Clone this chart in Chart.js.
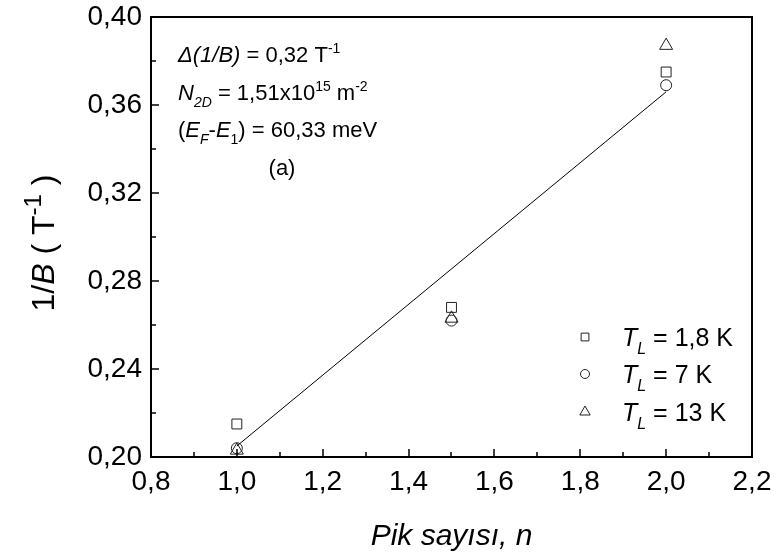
<!DOCTYPE html>
<html>
<head>
<meta charset="utf-8">
<script src="https://cdn.jsdelivr.net/npm/chart.js@4.4.0/dist/chart.umd.min.js"></script>
<style>
  html, body { margin: 0; padding: 0; background: #fff; }
</style>
</head>
<body>
<canvas id="chart" width="776" height="560"></canvas>
<script>
// data
const nValues = [1.0, 1.5, 2.0];
const t18K = [0.215, 0.268, 0.375];
const t7K = [0.204, 0.262, 0.369];
const t13K = [0.203, 0.263, 0.387];
const fitN = [1.0, 2.0];
const fitValues = [0.205, 0.366];
const xTickValues = [0.8, 1.0, 1.2, 1.4, 1.6, 1.8, 2.0, 2.2];
const yTickValues = [0.20, 0.24, 0.28, 0.32, 0.36, 0.40];

const FONT = '"Liberation Sans", Arial, sans-serif';
const INK = '#222';

function toPoints(xs, ys) {
  return xs.map((x, i) => ({ x: x, y: ys[i] }));
}
function comma(v, d) {
  return v.toFixed(d).replace('.', ',');
}

// draws a run of text pieces, some italic / sub / superscript
function richText(ctx, x, y, parts, size, align, small) {
  const k = small || 0.65;
  const fontFor = p => {
    const s = p.sub || p.sup ? Math.round(size * k) : size;
    return (p.it ? 'italic ' : '') + s + 'px ' + FONT;
  };
  let total = 0;
  parts.forEach(p => { ctx.font = fontFor(p); total += ctx.measureText(p.t).width; });
  let cx = align === 'center' ? x - total / 2 : x;
  ctx.textAlign = 'left';
  ctx.textBaseline = 'alphabetic';
  parts.forEach(p => {
    ctx.font = fontFor(p);
    let dy = 0;
    if (p.sub) dy = size * 0.3;
    if (p.sup) dy = -size * 0.42;
    ctx.fillText(p.t, cx, y + dy);
    cx += ctx.measureText(p.t).width;
  });
}

function marker(ctx, style, x, y, r) {
  ctx.beginPath();
  if (style === 'rect') {
    const s = r * Math.SQRT1_2;
    ctx.rect(x - s, y - s, 2 * s, 2 * s);
  } else if (style === 'circle') {
    ctx.arc(x, y, r, 0, Math.PI * 2);
  } else {
    ctx.moveTo(x, y - r);
    ctx.lineTo(x + r * Math.sin(Math.PI / 3), y + r / 2);
    ctx.lineTo(x - r * Math.sin(Math.PI / 3), y + r / 2);
    ctx.closePath();
  }
  ctx.stroke();
}

const decorations = {
  id: 'decorations',
  afterDraw(chart) {
    const ctx = chart.ctx;
    const a = chart.chartArea;
    const xs = chart.scales.x, ys = chart.scales.y;
    ctx.save();
    ctx.strokeStyle = '#000';
    ctx.fillStyle = '#000';

    // frame
    ctx.lineWidth = 2;
    ctx.strokeRect(a.left, a.top, a.right - a.left, a.bottom - a.top);

    // inward ticks, major + minor
    ctx.lineWidth = 1.5;
    ctx.beginPath();
    for (let i = 0; i < yTickValues.length; i++) {
      const y = Math.round(ys.getPixelForValue(yTickValues[i]));
      ctx.moveTo(a.left, y); ctx.lineTo(a.left + 8, y);
      if (i < yTickValues.length - 1) {
        const ym = Math.round(ys.getPixelForValue((yTickValues[i] + yTickValues[i + 1]) / 2));
        ctx.moveTo(a.left, ym); ctx.lineTo(a.left + 5, ym);
      }
    }
    for (let i = 0; i < xTickValues.length; i++) {
      const x = Math.round(xs.getPixelForValue(xTickValues[i]));
      ctx.moveTo(x, a.bottom); ctx.lineTo(x, a.bottom - 8);
      if (i < xTickValues.length - 1) {
        const xm = Math.round(xs.getPixelForValue((xTickValues[i] + xTickValues[i + 1]) / 2));
        ctx.moveTo(xm, a.bottom); ctx.lineTo(xm, a.bottom - 5);
      }
    }
    ctx.stroke();

    // annotation block
    ctx.fillStyle = '#000';
    richText(ctx, 178, 62, [
      { t: '\u0394(1/B)', it: true }, { t: ' = 0,32 T' }, { t: '-1', sup: true }
    ], 22);
    richText(ctx, 178, 100, [
      { t: 'N', it: true }, { t: '2D', it: true, sub: true }, { t: ' = 1,51x10' },
      { t: '15', sup: true }, { t: ' m' }, { t: '-2', sup: true }
    ], 22);
    richText(ctx, 178, 137, [
      { t: '(' }, { t: 'E', it: true }, { t: 'F', it: true, sub: true }, { t: '-' },
      { t: 'E', it: true }, { t: '1', sub: true }, { t: ') = 60,33 meV' }
    ], 22);
    richText(ctx, 282, 175, [{ t: '(a)' }], 22, 'center');

    // legend
    const legendRows = [
      { style: 'rect', r: 5.5, label: ' = 1,8 K', y: 337 },
      { style: 'circle', r: 4.5, label: ' = 7 K', y: 374 },
      { style: 'triangle', r: 6, label: ' = 13 K', y: 412 }
    ];
    ctx.strokeStyle = INK;
    ctx.lineWidth = 1;
    legendRows.forEach(row => {
      marker(ctx, row.style, 585, row.y, row.r);
      richText(ctx, 622, row.y + 9, [
        { t: 'T', it: true }, { t: 'L', it: true, sub: true }, { t: row.label }
      ], 25);
    });

    // axis titles
    richText(ctx, (a.left + a.right) / 2, 545, [{ t: 'Pik say\u0131s\u0131, n', it: true }], 30, 'center');
    ctx.save();
    ctx.translate(54, 243);
    ctx.rotate(-Math.PI / 2);
    richText(ctx, 0, 0, [
      { t: '1/' }, { t: 'B', it: true }, { t: ' ( T' }, { t: '-1', sup: true }, { t: ' )' }
    ], 32, 'center', 0.75);
    ctx.restore();

    ctx.restore();
  }
};

const seriesStyle = (label, data, style, r) => ({
  type: 'scatter',
  label: label,
  data: data,
  pointStyle: style,
  pointRadius: r,
  pointHoverRadius: r,
  pointBorderWidth: 1,
  pointBorderColor: INK,
  pointBackgroundColor: 'rgba(0,0,0,0)',
  showLine: false,
  clip: false
});

new Chart(document.getElementById('chart'), {
  type: 'scatter',
  data: {
    datasets: [
      {
        type: 'line',
        label: 'fit',
        data: toPoints(fitN, fitValues),
        borderColor: '#000',
        borderWidth: 1,
        pointRadius: 0,
        fill: false
      },
      seriesStyle('T_L = 1,8 K', toPoints(nValues, t18K), 'rect', 7),
      seriesStyle('T_L = 7 K', toPoints(nValues, t7K), 'circle', 5.5),
      seriesStyle('T_L = 13 K', toPoints(nValues, t13K), 'triangle', 7.5)
    ]
  },
  options: {
    responsive: false,
    animation: false,
    layout: { padding: { top: 17, right: 24, left: 0, bottom: 0 } },
    plugins: { legend: { display: false }, tooltip: { enabled: false } },
    scales: {
      x: {
        type: 'linear',
        min: 0.8, max: 2.2,
        afterBuildTicks: s => { s.ticks = xTickValues.map(v => ({ value: v })); },
        afterFit: s => { s.height = 103; s.paddingLeft = 0; s.paddingRight = 0; },
        grid: { display: true, drawOnChartArea: false, drawTicks: false },
        border: { display: false },
        ticks: {
          padding: 8,
          color: '#000',
          font: { family: FONT, size: 28 },
          callback: v => comma(v, 1)
        }
      },
      y: {
        type: 'linear',
        min: 0.2, max: 0.4,
        afterBuildTicks: s => { s.ticks = yTickValues.map(v => ({ value: v })); },
        afterFit: s => { s.width = 151; s.paddingTop = 0; s.paddingBottom = 0; },
        grid: { display: true, drawOnChartArea: false, drawTicks: false },
        border: { display: false },
        ticks: {
          padding: 9,
          color: '#000',
          font: { family: FONT, size: 28 },
          callback: v => comma(v, 2)
        }
      }
    }
  },
  plugins: [decorations]
});
</script>
</body>
</html>
